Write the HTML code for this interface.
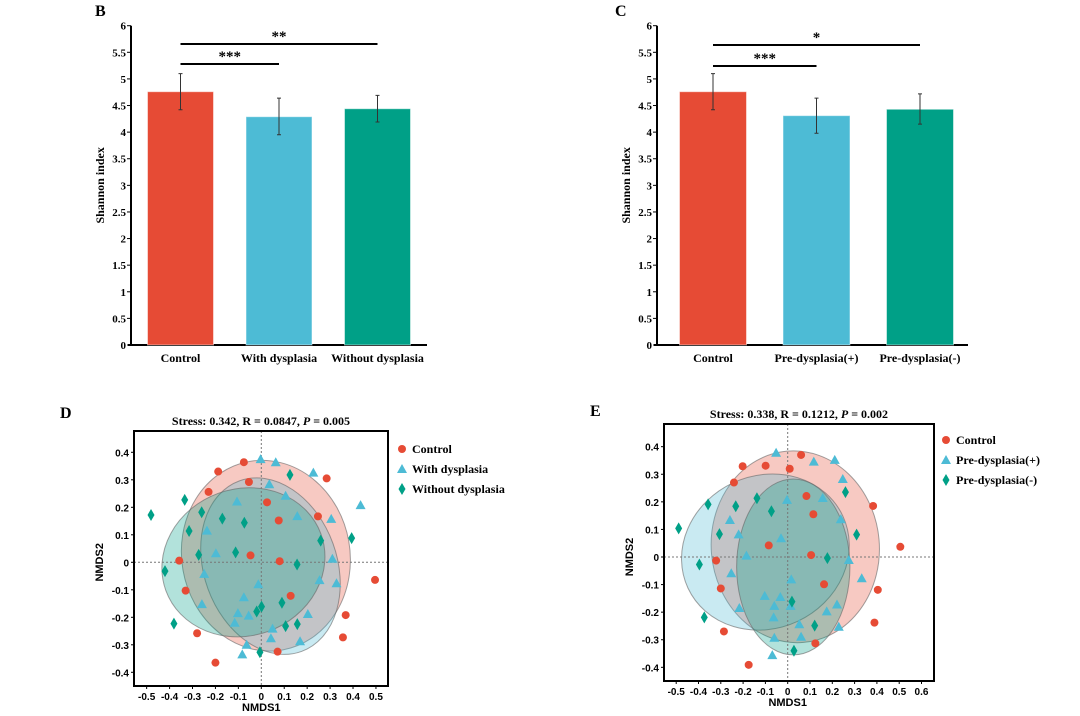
<!DOCTYPE html>
<html><head><meta charset="utf-8"><style>
body{margin:0;background:#fff;width:1080px;height:716px;overflow:hidden}
svg{display:block}
.serif{font-family:"Liberation Serif",serif;font-weight:bold}
.sans{font-family:"Liberation Sans",sans-serif;font-weight:bold}
</style></head><body>
<svg id="fig" width="1080" height="716" viewBox="0 0 1080 716" xmlns="http://www.w3.org/2000/svg"></svg>
<script>
// ---- Bar chart data ----
const barCatsB = ["Control","With dysplasia","Without dysplasia"];
const barValsB = [4.76, 4.29, 4.44];
const barErrHiB = [5.10, 4.64, 4.69];
const barErrLoB = [4.42, 3.95, 4.19];
const barCatsC = ["Control","Pre-dysplasia(+)","Pre-dysplasia(-)"];
const barValsC = [4.76, 4.31, 4.43];
const barErrHiC = [5.10, 4.64, 4.72];
const barErrLoC = [4.42, 3.98, 4.15];
const barTicks = [0,0.5,1,1.5,2,2.5,3,3.5,4,4.5,5,5.5,6];
const sigB = [["***",0,1],["**",0,2]];
const sigC = [["***",0,1],["*",0,2]];
// ---- NMDS data D ----
const dCtrlX=[-0.076,-0.188,-0.054,-0.23,0.285,0.025,0.076,0.247,-0.047,0.08,-0.358,-0.33,0.128,0.496,0.368,0.356,-0.28,0.071,-0.2];
const dCtrlY=[0.364,0.33,0.292,0.256,0.305,0.218,0.152,0.167,0.025,0.004,0.006,-0.103,-0.122,-0.064,-0.192,-0.273,-0.258,-0.325,-0.365];
const dWithX=[-0.003,0.063,0.035,0.227,0.106,-0.106,0.433,0.157,0.305,-0.237,-0.198,0.31,-0.249,-0.013,0.254,0.328,-0.076,-0.259,-0.102,-0.055,0.203,-0.116,0.049,0.042,-0.064,0.169,-0.083];
const dWithY=[0.375,0.364,0.284,0.326,0.242,0.221,0.208,0.168,0.158,0.115,0.033,0.013,-0.042,-0.08,-0.065,-0.076,-0.127,-0.152,-0.185,-0.194,-0.188,-0.22,-0.241,-0.276,-0.3,-0.287,-0.335];
const dWithoutX=[0.125,-0.334,-0.481,-0.26,-0.17,-0.074,-0.315,0.394,0.259,-0.273,-0.112,0.156,-0.42,0.09,0.001,-0.02,-0.381,0.106,0.157,-0.006];
const dWithoutY=[0.318,0.227,0.172,0.182,0.159,0.144,0.114,0.088,0.079,0.027,0.036,-0.008,-0.032,-0.147,-0.161,-0.179,-0.223,-0.232,-0.225,-0.327];
// ---- NMDS data E ----
const eCtrlX=[0.06,-0.202,-0.099,0.009,-0.241,0.084,0.115,0.383,-0.085,0.105,0.505,-0.321,-0.3,0.163,0.404,0.389,-0.286,0.124,-0.175];
const eCtrlY=[0.37,0.329,0.331,0.32,0.27,0.221,0.155,0.185,0.042,0.007,0.037,-0.013,-0.114,-0.099,-0.119,-0.238,-0.27,-0.313,-0.391];
const ePlusX=[-0.052,0.117,0.211,0.247,-0.003,0.157,0.238,-0.259,-0.22,-0.03,-0.185,0.274,0.332,-0.253,0.016,-0.103,-0.033,0.013,-0.06,-0.217,0.175,0.221,-0.063,0.052,0.229,-0.06,0.06,-0.069];
const ePlusY=[0.378,0.346,0.352,0.283,0.207,0.214,0.137,0.134,0.082,0.068,0.005,-0.011,-0.077,-0.059,-0.081,-0.141,-0.145,-0.177,-0.177,-0.185,-0.197,-0.172,-0.219,-0.244,-0.253,-0.293,-0.289,-0.356];
const eMinusX=[-0.357,-0.233,-0.138,-0.073,0.259,-0.489,-0.306,0.309,0.178,-0.396,0.019,-0.374,0.121,0.028];
const eMinusY=[0.191,0.184,0.213,0.166,0.235,0.104,0.083,0.081,-0.004,-0.027,-0.162,-0.219,-0.249,-0.34];
const xTicksD=[-0.5,-0.4,-0.3,-0.2,-0.1,0,0.1,0.2,0.3,0.4,0.5];
const xTicksE=[-0.5,-0.4,-0.3,-0.2,-0.1,0,0.1,0.2,0.3,0.4,0.5,0.6];
const yTicksN=[-0.4,-0.3,-0.2,-0.1,0,0.1,0.2,0.3,0.4];
const RED="#e64b35",BLUE="#4dbbd5",GREEN="#00a087";

const svg=document.getElementById('fig');
const NS="http://www.w3.org/2000/svg";
function el(tag,attrs,parent,text){const e=document.createElementNS(NS,tag);for(const k in attrs)e.setAttribute(k,attrs[k]);if(text!==undefined)e.textContent=text;(parent||svg).appendChild(e);return e;}
function fmt(v){return (Math.round(v*10)/10).toString();}

function barChart(o){
  const g=el('g',{});
  
  
  const y=v=>o.y0-(v/6)*(o.y0-o.y6);
  const xc=i=>o.c0+i*o.step;
  const ax=el('line',{x1:o.ax,y1:o.y6,x2:o.ax,y2:o.y0,stroke:'#000','stroke-width':2},g);
  
  const bx=el('line',{x1:o.ax-3,y1:o.y0,x2:o.axEnd,y2:o.y0,stroke:'#000','stroke-width':2},g);
  
  barTicks.forEach(t=>{
    el('line',{x1:o.ax-4,y1:y(t),x2:o.ax,y2:y(t),stroke:'#000','stroke-width':1},g);
    const tl=el('text',{x:o.ax-5,y:y(t)+4,'text-anchor':'end','font-size':11,class:'serif'},g,String(t));
    
  });
  const yl=el('text',{x:0,y:0,transform:`translate(${o.ax-27},${(o.y0+o.y6)/2}) rotate(-90)`,'text-anchor':'middle','font-size':12,class:'serif'},g,'Shannon index');
  
  const cols=[RED,BLUE,GREEN];
  o.cats.forEach((c,i)=>{
    const r=el('rect',{x:xc(i)-o.bw/2,y:y(o.vals[i]),width:o.bw,height:y(0)-y(o.vals[i]),fill:cols[i],stroke:'rgba(255,255,255,0.5)'},g);
    
    const eb=el('path',{d:`M${xc(i)},${y(o.hi[i])}V${y(o.lo[i])}M${xc(i)-2},${y(o.hi[i])}H${xc(i)+2}M${xc(i)-2},${y(o.lo[i])}H${xc(i)+2}`,stroke:'#333','stroke-width':1,fill:'none'},g);
    
    const t=el('text',{x:xc(i),y:o.y0+17,'text-anchor':'middle','font-size':12,class:'serif'},g,c);
    
  });
  o.sig.forEach((s,k)=>{
    const ly=o.sigY[k];
    const l=el('line',{x1:xc(s[1]),y1:ly,x2:xc(s[2]),y2:ly,stroke:'#000','stroke-width':2},g);
    
    const t=el('text',{x:(xc(s[1])+xc(s[2]))/2,y:ly-3,'text-anchor':'middle','font-size':15,class:'serif'},g,s[0]);
    
  });
  const pl=el('text',{x:o.lx,y:16,'font-size':16,class:'serif'},g,o.label);
  
}
barChart({name:'bar-chart-b',label:'B',lx:95,ax:131,axEnd:427,y0:345,y6:25.7,c0:180.5,step:98.5,bw:66,cats:barCatsB,vals:barValsB,hi:barErrHiB,lo:barErrLoB,sig:sigB,sigY:[64,44]});
barChart({name:'bar-chart-c',label:'C',lx:615,ax:657,axEnd:968,y0:345,y6:25.7,c0:713,step:103.5,bw:67,cats:barCatsC,vals:barValsC,hi:barErrHiC,lo:barErrLoC,sig:sigC,sigY:[66,45]});

function drawPt(parent,shape,x,y,c){
  let p;
  if(shape==='c') p=el('circle',{cx:x,cy:y,r:4,fill:c},parent);
  else if(shape==='t') p=el('path',{d:`M${x},${y-5}L${x+5},${y+4}L${x-5},${y+4}Z`,fill:c},parent);
  else p=el('path',{d:`M${x},${y-6}L${x+3.5},${y}L${x},${y+6}L${x-3.5},${y}Z`,fill:c},parent);
  return p;
}

function nmds(o){
  const g=el('g',{});
  
  
  const X=v=>o.x0+v*o.sx, Y=v=>o.y0-v*o.sy;
  const clip='clip'+o.name;
  const cp=el('clipPath',{id:clip},g);
  el('rect',{x:o.L,y:o.T,width:o.R-o.L,height:o.B-o.T},cp);
  const inner=el('g',{'clip-path':`url(#${clip})`},g);
  o.ells.forEach(e=>{
    const ee=el('ellipse',{cx:X(e[0]),cy:Y(e[1]),rx:e[2]*o.sx,ry:e[3]*o.sy,transform:`rotate(${e[5]} ${X(e[0])} ${Y(e[1])})`,fill:e[4],'fill-opacity':0.3,stroke:'#666','stroke-opacity':0.6,'stroke-width':1},inner);
    
  });
  el('line',{x1:o.L,y1:Y(0),x2:o.R,y2:Y(0),stroke:'#777','stroke-dasharray':'2,2'},inner);
  el('line',{x1:X(0),y1:o.T,x2:X(0),y2:o.B,stroke:'#777','stroke-dasharray':'2,2'},inner);
  o.series.forEach(s=>{
    s.xs.forEach((v,i)=>{
      const p=drawPt(inner,s.shape,X(v),Y(s.ys[i]),s.col);
      
      
    });
  });
  const fr=el('rect',{x:o.L,y:o.T,width:o.R-o.L,height:o.B-o.T,fill:'none',stroke:'#000','stroke-width':2},g);
  
  o.xt.forEach(t=>{
    el('line',{x1:X(t),y1:o.B,x2:X(t),y2:o.B+3,stroke:'#000'},g);
    const tl=el('text',{x:X(t),y:o.B+14,'text-anchor':'middle','font-size':10,class:'sans'},g,fmt(t));
    
  });
  yTicksN.forEach(t=>{
    el('line',{x1:o.L-3,y1:Y(t),x2:o.L,y2:Y(t),stroke:'#000'},g);
    const tl=el('text',{x:o.L-5,y:Y(t)+4,'text-anchor':'end','font-size':10,class:'sans'},g,fmt(t));
    
  });
  const xl=el('text',{x:X(0),y:o.B+25,'text-anchor':'middle','font-size':11,class:'sans'},g,'NMDS1');
  
  const yl=el('text',{x:0,y:0,transform:`translate(${o.L-31},${Y(0)}) rotate(-90)`,'text-anchor':'middle','font-size':11,class:'sans'},g,'NMDS2');
  
  const tt=el('text',{x:(o.L+o.R)/2,y:o.T-6,'text-anchor':'middle','font-size':12,class:'serif'},g);
  
  tt.innerHTML=o.title;
  o.series.forEach((s,i)=>{
    const ly=o.legY+i*20;
    const p=drawPt(g,s.shape,o.legX,ly,s.col);
    
    const t=el('text',{x:o.legX+10,y:ly+4,'font-size':12,class:'serif'},g,s.label);
    
  });
  const pl=el('text',{x:o.lx,y:o.ly,'font-size':16,class:'serif'},g,o.label);
  
}
nmds({name:'nmds-d',label:'D',lx:60,ly:418,L:134,R:388,T:431,B:686,x0:261.3,sx:229.3,y0:562.3,sy:275,xt:xTicksD,
  title:'Stress: 0.342, R = 0.0847, <tspan font-style="italic">P</tspan> = 0.005',legX:402,legY:449,
  ells:[[0.02,0.024,0.367,0.348,RED,-10],[0.04,-0.014,0.29,0.33,BLUE,-20],[-0.078,0.0,0.36,0.267,GREEN,-20]],
  series:[{key:'control',label:'Control',shape:'c',col:RED,xs:dCtrlX,ys:dCtrlY},
          {key:'with-dysplasia',label:'With dysplasia',shape:'t',col:BLUE,xs:dWithX,ys:dWithY},
          {key:'without-dysplasia',label:'Without dysplasia',shape:'d',col:GREEN,xs:dWithoutX,ys:dWithoutY}]});
nmds({name:'nmds-e',label:'E',lx:590,ly:416,L:664,R:934,T:424,B:681,x0:787.7,sx:223,y0:557,sy:275.8,xt:xTicksE,
  title:'Stress: 0.338, R = 0.1212, <tspan font-style="italic">P</tspan> = 0.002',legX:946,legY:440,
  ells:[[0.034,0.037,0.377,0.348,RED,-5],[-0.1,0.018,0.383,0.277,BLUE,-25],[0.025,-0.036,0.254,0.319,GREEN,0]],
  series:[{key:'control',label:'Control',shape:'c',col:RED,xs:eCtrlX,ys:eCtrlY},
          {key:'pre-dysplasia-plus',label:'Pre-dysplasia(+)',shape:'t',col:BLUE,xs:ePlusX,ys:ePlusY},
          {key:'pre-dysplasia-minus',label:'Pre-dysplasia(-)',shape:'d',col:GREEN,xs:eMinusX,ys:eMinusY}]});
</script>
</body></html>
